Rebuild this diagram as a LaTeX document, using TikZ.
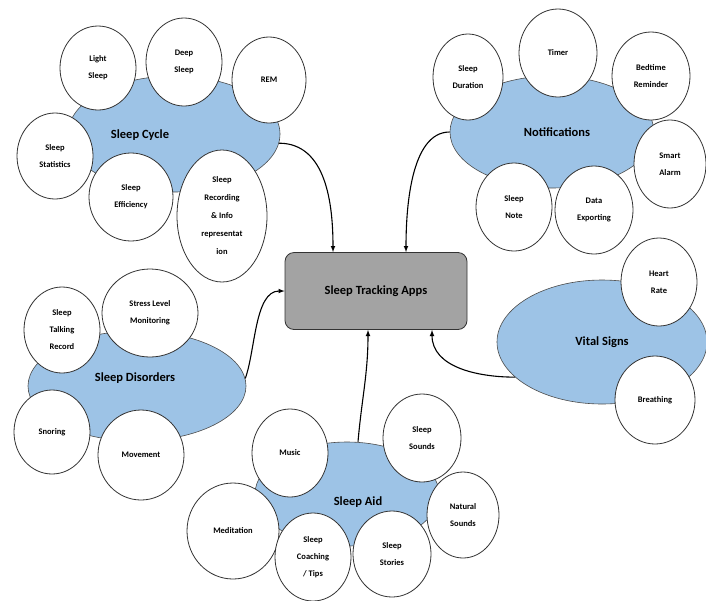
\documentclass[tikz,border=0pt]{standalone}
\usepackage{fontspec}
\setmainfont{Carlito}
\usetikzlibrary{shapes.geometric}
\definecolor{blobblue}{RGB}{157,195,230}
\definecolor{appgray}{RGB}{163,163,163}

\begin{document}
\begin{tikzpicture}[x=1pt,y=1pt,
    blob/.style={ellipse,draw=black!70,line width=0.6pt,fill=blobblue,inner sep=0pt},
    leaf/.style={ellipse,draw=black!80,line width=0.8pt,fill=white,inner sep=0pt,
        align=center,font=\fontsize{8.5}{17}\selectfont\bfseries,minimum width=76,minimum height=88},
    hub/.style={font=\fontsize{12.5}{14}\selectfont\bfseries},
    link/.style={line width=1.1pt,-latex}]
    \path[use as bounding box,fill=white] (0,0) rectangle (706,-600);
    %% blue groups
    \node[blob,minimum width=212,minimum height=116] (cyc) at (174,-134) {};
    \node[blob,minimum width=204,minimum height=112] (notif) at (552,-132) {};
    \node[blob,minimum width=218,minimum height=110] (dis) at (137,-386) {};
    \node[blob,minimum width=184,minimum height=104] (aid) at (347,-494) {};
    \node[blob,minimum width=210,minimum height=124] (vit) at (602,-342) {};
    %% Sleep Cycle
    \node[leaf,minimum height=84] (ls) at (98,-68) {Light\\Sleep};
    \node[leaf] (ds) at (184,-62) {Deep\\Sleep};
    \node[leaf,minimum width=74,minimum height=86] (rem) at (269,-80) {REM};
    \node[leaf,minimum height=86] (sst) at (55,-156) {Sleep\\Statistics};
    \node[leaf,minimum width=84] (sef) at (131,-197) {Sleep\\Efficiency};
    \node[leaf,minimum width=90,minimum height=132,font=\fontsize{8.5}{18}\selectfont\bfseries] (srec) at (222,-216)
        {Sleep\\Recording\\\& Info\\representat\\ion};
    %% Notifications
    \node[leaf,minimum width=70,minimum height=86] (sdu) at (468,-77) {Sleep\\Duration};
    \node[leaf,minimum width=78] (tim) at (558,-53) {Timer};
    \node[leaf,minimum width=78] (bed) at (651,-76) {Bedtime\\Reminder};
    \node[leaf,minimum width=72] (sal) at (670,-164) {Smart\\Alarm};
    \node[leaf] (snt) at (514,-207) {Sleep\\Note};
    \node[leaf,minimum width=78] (dex) at (594,-210) {Data\\Exporting};
    %% Sleep Disorders
    \node[leaf,minimum height=86] (stk) at (62,-330) {Sleep\\Talking\\Record};
    \node[leaf,minimum width=96] (slm) at (150,-313) {Stress Level\\Monitoring};
    \node[leaf,minimum height=84] (sno) at (52,-432) {Snoring};
    \node[leaf,minimum width=86,minimum height=90] (mov) at (141,-455) {Movement};
    %% Sleep Aid
    \node[leaf] (mus) at (290,-453) {Music};
    \node[leaf,minimum width=78] (sso) at (422,-438) {Sleep\\Sounds};
    \node[leaf,minimum width=72,minimum height=86] (nat) at (463,-515) {Natural\\Sounds};
    \node[leaf,minimum width=92,minimum height=96] (med) at (233,-531) {Meditation};
    \node[leaf] (sco) at (313,-557) {Sleep\\Coaching\\/ Tips};
    \node[leaf,minimum width=78,minimum height=86] (sto) at (392,-554) {Sleep\\Stories};
    %% Vital Signs
    \node[leaf] (hr) at (659,-282) {Heart\\Rate};
    \node[leaf,minimum width=80] (br) at (655,-400) {Breathing};
    %% group labels
    \node[hub] (cyclbl) at (140,-135) {Sleep Cycle};
    \node[hub] (notiflbl) at (557,-132) {Notifications};
    \node[hub] (dislbl) at (135,-378) {Sleep Disorders};
    \node[hub] (aidlbl) at (358,-502) {Sleep Aid};
    \node[hub] (vitlbl) at (602,-342) {Vital Signs};
    %% app
    \node[hub,draw=black!80,line width=0.8pt,fill=appgray,rounded corners=9pt,
        minimum width=182,minimum height=77] (app) at (376,-291) {Sleep Tracking Apps};
    %% links
    \draw[link] (cyc.355) to[out=0,in=90] ([xshift=-43]app.north);
    \draw[link] (notif.west) to[out=180,in=90,looseness=0.8] ([xshift=30]app.north);
    \draw[link] (dis.4) to[out=70,in=180,looseness=0.8] (app.west);
    \draw[link] ([xshift=11]aid.north) to[out=85,in=-90] ([xshift=-8]app.south);
    \draw[link] (vit.202) to[out=180,in=-90] ([xshift=56]app.south);
\end{tikzpicture}
\end{document}
